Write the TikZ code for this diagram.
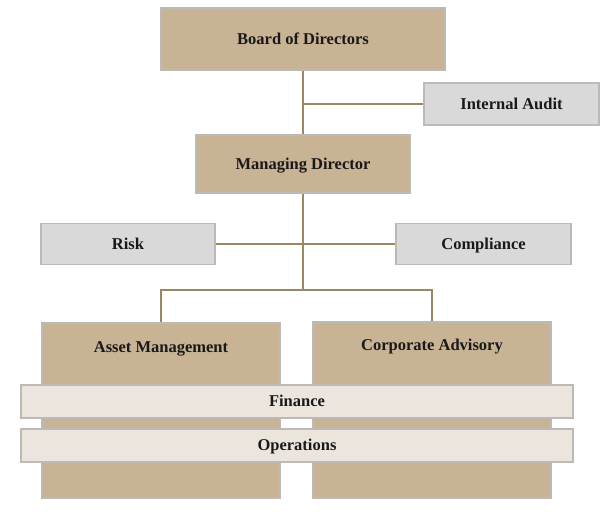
\documentclass[tikz,border=0pt]{standalone}
\usepackage{fontspec}
\setmainfont{Liberation Serif}
\definecolor{tan}{HTML}{C8B395}
\definecolor{lgray}{HTML}{D9D9D9}
\definecolor{bar}{HTML}{EBE5DE}
\definecolor{edge}{HTML}{BDBAB6}
\definecolor{conn}{HTML}{9C8763}
\begin{document}
\begin{tikzpicture}[x=1pt,y=-1pt,
  base/.style={draw=edge, line width=1.4pt, inner sep=0pt, font=\fontsize{16.5}{20}\selectfont\bfseries, text=black!90, text height=10.9pt, text depth=0pt},
  tanbox/.style={base, fill=tan},
  graybox/.style={base, fill=lgray},
  barbox/.style={base, fill=bar},
  txt/.style={inner sep=0pt, font=\fontsize{16.5}{20}\selectfont\bfseries, text=black!90, text height=10.9pt, text depth=0pt},
  conline/.style={draw=conn, line width=1.8pt}]
\useasboundingbox[fill=white] (0,0) rectangle (614,512);
\coordinate (j1) at (303,104);
\coordinate (j3) at (303,290);
\node[tanbox, minimum width=284pt, minimum height=62pt] (bod) at (303,39) {Board of Directors};
\node[graybox, minimum width=175pt, minimum height=42pt] (ia) at (511.5,104) {Internal Audit};
\node[tanbox, minimum width=214pt, minimum height=58pt] (md) at (303,164) {Managing Director};
\node[graybox, minimum width=174pt, minimum height=41pt] (risk) at (128,244) {Risk};
\node[graybox, minimum width=175pt, minimum height=41pt] (comp) at (483.5,244) {Compliance};
\node[tanbox, minimum width=238pt, minimum height=175pt] (am) at (161,410.5) {};
\node[txt] (amt) at (161,347.5) {Asset Management};
\node[tanbox, minimum width=238pt, minimum height=176pt] (ca) at (432,410) {};
\node[txt] (cat) at (432,345) {Corporate Advisory};
\node[barbox, minimum width=552pt, minimum height=33pt] (fin) at (297,401.5) {Finance};
\node[barbox, minimum width=552pt, minimum height=33pt] (ops) at (297,445.5) {Operations};
\draw[conline] (bod.south) -- (md.north);
\draw[conline] (j1) -- (ia.west);
\draw[conline] (md.south) -- (j3);
\draw[conline] (risk.east) -- (comp.west);
\draw[conline] (am.north) |- (j3) -| (ca.north);
\end{tikzpicture}
\end{document}
